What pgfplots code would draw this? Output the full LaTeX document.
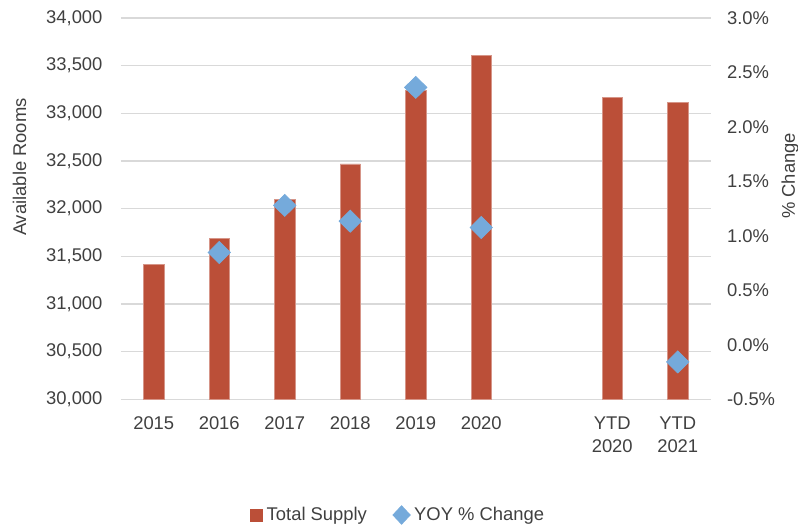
\documentclass[border=0pt]{standalone}
\usepackage{pgfplots}
\pgfplotsset{compat=1.18}
\usepackage{fontspec}
\setmainfont{Liberation Sans}
\definecolor{barred}{RGB}{187,79,56}
\definecolor{diablue}{RGB}{117,170,219}
\definecolor{gridgrey}{RGB}{217,217,217}
\definecolor{txt}{RGB}{64,64,64}
\begin{document}
\fontsize{9.2}{11.5}\selectfont
\begin{tikzpicture}
\useasboundingbox (0,0) rectangle (399pt,263pt);
\begin{axis}[
  at={(60.5pt,63.35pt)}, anchor=south west,
  scale only axis, width=294.75pt, height=190.65pt,
  xmin=-0.5, xmax=8.5,
  ymin=30000, ymax=34000,
  ytick={30000,30500,31000,31500,32000,32500,33000,33500,34000},
  scaled y ticks=false,
  xtick={0,1,2,3,4,5,7,8},
  xticklabels={2015,2016,2017,2018,2019,2020,{YTD\\2020},{YTD\\2021}},
  xticklabel style={align=center, anchor=north, yshift=-5.6pt, text=txt},
  yticklabel style={xshift=-6pt, text=txt},
  yticklabel={\pgfmathprintnumber[fixed,precision=0,1000 sep={,},assume math mode=true]{\tick}},
  ymajorgrids, grid style={gridgrey, line width=0.75pt},
  axis line style={draw=none},
  major tick length=0pt,
  ylabel={Available Rooms},
  every axis y label/.style={at={(axis description cs:-0.1722,0.609)}, rotate=90, anchor=center, text=txt},
  clip=true,
]
\addplot[ybar, bar width=10.15pt, fill=barred, draw=barred!60!white, line width=0.3pt] coordinates {
 (0,31419) (1,31687) (2,32101) (3,32470) (4,33243) (5,33605) (7,33163) (8,33113)
};
\end{axis}
\begin{axis}[
  at={(60.5pt,63.35pt)}, anchor=south west,
  scale only axis, width=294.75pt, height=190.65pt,
  xmin=-0.5, xmax=8.5,
  ymin=-0.5, ymax=3.0,
  ytick={-0.5,0,0.5,1,1.5,2,2.5,3},
  yticklabel pos=right,
  yticklabel={\pgfmathprintnumber[fixed,fixed zerofill,precision=1,assume math mode=true]{\tick}\%},
  yticklabel style={xshift=5pt, text=txt},
  hide x axis,
  axis line style={draw=none},
  major tick length=0pt,
  ylabel={\% Change},
  every axis y label/.style={at={(axis description cs:1.1349,0.586)}, rotate=90, anchor=center, text=txt},
  legend style={at={(axis description cs:0.4716,-0.3034)}, anchor=center, draw=none, fill=none,
    legend columns=2, text=txt,
    /tikz/every even column/.append style={column sep=11pt},
    legend cell align=left},
  clip=false,
]
\addlegendimage{legend image code/.code={\fill[barred] (0pt,-3pt) rectangle (6pt,3pt);}}
\addlegendentry{Total Supply}
\addplot[only marks, mark=diamond*, mark size=5.5pt,
  mark options={fill=diablue, draw=diablue, xscale=1.35, rounded corners=1.2pt},
  legend image code/.code={\draw[only marks, mark=diamond*, mark size=4.6pt, mark options={fill=diablue, draw=diablue, xscale=1.25, rounded corners=1pt}] plot coordinates {(4.8pt,0pt)};}
] coordinates {
 (1,0.848) (2,1.28) (3,1.135) (4,2.363) (5,1.077) (8,-0.157)
};
\addlegendentry{YOY \% Change}
\end{axis}
\end{tikzpicture}
\end{document}
